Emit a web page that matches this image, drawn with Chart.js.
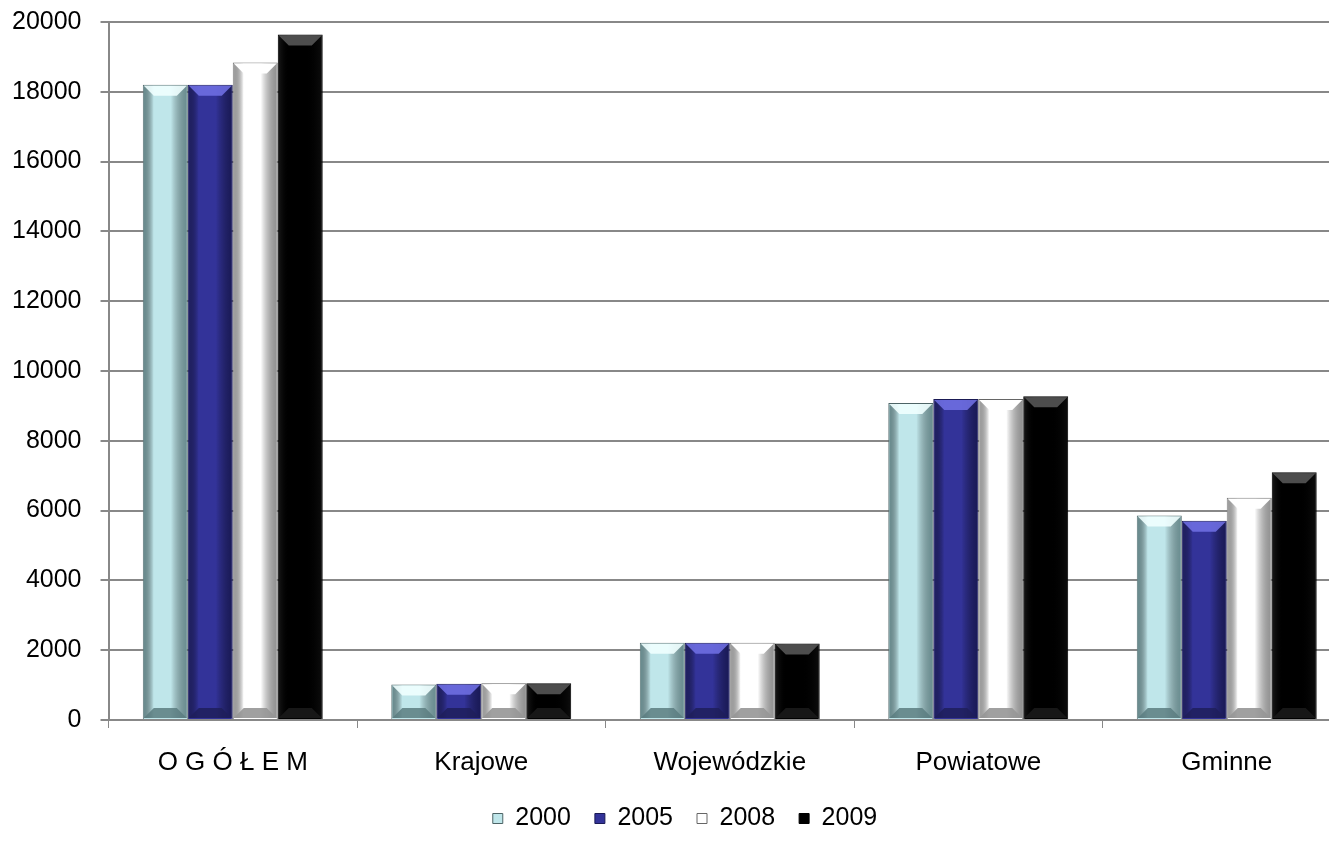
<!DOCTYPE html>
<html>
<head>
<meta charset="utf-8">
<script src="https://cdn.jsdelivr.net/npm/chart.js@4/dist/chart.umd.min.js"></script>
<style>
  html, body { margin: 0; padding: 0; background: #fff; overflow: hidden; }
  #wrap { width: 1358px; height: 857px; margin-left: -7px; }
</style>
</head>
<body>
<div id="wrap"><canvas id="mycanvas" width="1358" height="857"></canvas></div>
<script>
var categories = ['O G Ó Ł E M', 'Krajowe', 'Wojewódzkie', 'Powiatowe', 'Gminne'];
var years = ['2000', '2005', '2008', '2009'];
var v2000 = [18200, 1020, 2210, 9080, 5860];
var v2005 = [18200, 1040, 2210, 9200, 5710];
var v2008 = [18840, 1050, 2210, 9200, 6370];
var v2009 = [19640, 1050, 2190, 9280, 7100];
var yTicks = [0, 2000, 4000, 6000, 8000, 10000, 12000, 14000, 16000, 18000, 20000];

var fills = ['#bfe6ea', '#333399', '#ffffff', '#000000'];
var edges = ['#4d6466', '#1a1a55', '#666666', '#000000'];
var tops = ['rgba(240,255,255,0.9)', 'rgba(110,110,225,0.9)', 'rgba(255,255,255,1)', 'rgba(85,85,85,0.9)'];
var bottoms = ['rgba(90,125,128,0.85)', 'rgba(30,30,90,0.85)', 'rgba(150,150,150,0.9)', 'rgba(25,25,25,0.9)'];
var sides = ['rgba(70,105,108,0.7)', 'rgba(15,15,60,0.7)', 'rgba(110,110,110,0.75)', 'rgba(20,20,20,0.6)'];

// bevel look on the bars
var bevel = {
  id: 'bevel',
  afterDatasetsDraw: function(chart) {
    var ctx = chart.ctx;
    chart.data.datasets.forEach(function(ds, di) {
      chart.getDatasetMeta(di).data.forEach(function(bar) {
        var l = bar.x - bar.width / 2 + 1, r = bar.x + bar.width / 2 - 1;
        var t = bar.y + 1, b = bar.base - 1;
        var d = Math.min(10, (b - t) / 3);
        ctx.save();
        // right side
        var g = ctx.createLinearGradient(r - d - 6, 0, r, 0);
        g.addColorStop(0, 'rgba(0,0,0,0)');
        g.addColorStop(1, sides[di]);
        ctx.fillStyle = g;
        ctx.fillRect(r - d - 6, t, d + 6, b - t);
        // left side
        var g2 = ctx.createLinearGradient(l, 0, l + d, 0);
        g2.addColorStop(0, bottoms[di]);
        g2.addColorStop(1, 'rgba(0,0,0,0)');
        ctx.fillStyle = g2;
        ctx.fillRect(l, t, d, b - t);
        // top face
        ctx.fillStyle = tops[di];
        ctx.beginPath();
        ctx.moveTo(l, t); ctx.lineTo(r, t);
        ctx.lineTo(r - d, t + d); ctx.lineTo(l + d, t + d);
        ctx.closePath(); ctx.fill();
        // bottom face
        ctx.fillStyle = bottoms[di];
        ctx.beginPath();
        ctx.moveTo(l, b); ctx.lineTo(r, b);
        ctx.lineTo(r - d, b - d); ctx.lineTo(l + d, b - d);
        ctx.closePath(); ctx.fill();
        ctx.restore();
      });
    });
  }
};

// nudge the legend to where it sits in the original
var legendShift = {
  id: 'legendShift',
  afterLayout: function(chart) {
    var lg = chart.legend;
    lg.left += 13; lg.right += 13;
    lg.top -= 16; lg.bottom -= 16;
  }
};

var series = [v2000, v2005, v2008, v2009];
var datasets = series.map(function(vals, i) {
  return {
    label: years[i],
    data: vals,
    backgroundColor: fills[i],
    borderColor: edges[i],
    borderWidth: 1,
    categoryPercentage: 0.724,
    barPercentage: 1.0
  };
});

Chart.defaults.font.family = '"Liberation Sans", Arial, sans-serif';
Chart.defaults.color = '#000';

new Chart(document.getElementById('mycanvas'), {
  type: 'bar',
  data: { labels: categories, datasets: datasets },
  plugins: [bevel, legendShift],
  options: {
    responsive: false,
    animation: false,
    layout: { padding: { top: 0, left: 0, right: 0, bottom: 0 } },
    plugins: {
      legend: {
        position: 'bottom',
        labels: {
          font: { size: 25 },
          boxWidth: 10,
          boxHeight: 10,
          padding: 24,
          color: '#000'
        }
      },
      tooltip: { enabled: false }
    },
    scales: {
      x: {
        grid: { display: true, drawOnChartArea: false, color: '#888', lineWidth: 1, tickLength: 8, offset: true },
        border: { color: '#888', width: 2 },
        ticks: { font: { size: 26, lineHeight: 1.4615 }, padding: 16, maxRotation: 0 }
      },
      y: {
        min: 0,
        max: 20000,
        afterBuildTicks: function(axis) {
          axis.ticks = yTicks.map(function(v) { return { value: v }; });
        },
        grid: { color: '#888', lineWidth: 2, tickLength: 8 },
        border: { color: '#888', width: 2 },
        ticks: {
          font: { size: 25, lineHeight: 0.24 },
          padding: 19,
          callback: function(v) { return String(v); }
        }
      }
    }
  }
});
</script>
</body>
</html>
